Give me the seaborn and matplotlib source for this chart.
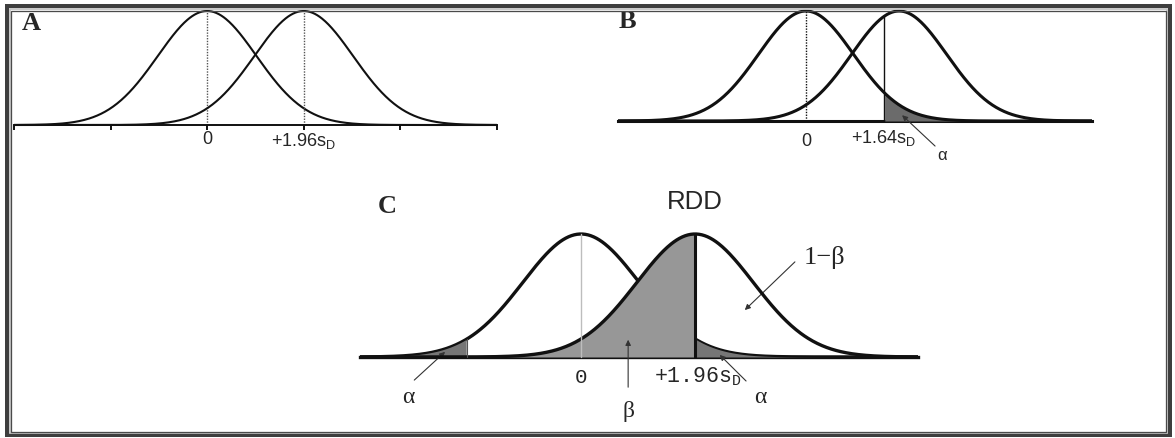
import numpy as np
import pandas as pd
import matplotlib
matplotlib.use("Agg")
import matplotlib.pyplot as plt
import seaborn as sns
from matplotlib.patches import Rectangle

# ---------------- data ----------------
panel_labels = ["A", "B", "C"]
null_mean = 0.0          # H0 distribution centre (in s_D units)
alt_mean = 1.96          # alternative distribution centre
crit_B = 1.64            # one-sided critical value, panel B
crit_C = 1.96            # two-sided critical value, panel C
ticks_A = [-3.92, -1.96, 0.0, 1.96, 3.92, 5.88]
label_zero = "0"
label_A = "+1.96s$\\mathregular{_D}$"
label_B = "+1.64s$\\mathregular{_D}$"
label_C = "+1.96s$\\mathregular{_D}$"
title_C = "RDD"
greek_alpha = "\u03b1"
greek_beta = "\u03b2"
power_label = "1\u2212\u03b2"

sns.set_theme(style="white")
plt.rcParams["font.family"] = ["Liberation Sans", "DejaVu Sans"]

W, H = 1175, 438
fig = plt.figure(figsize=(W / 100, H / 100), dpi=100)
fig.patch.set_facecolor("white")


def add_panel(x0, x1, top, bottom, base, peak, xc, sig):
    ax = fig.add_axes([x0 / W, (H - bottom) / H, (x1 - x0) / W, (bottom - top) / H])
    unit = base - peak
    ax.set_xlim((x0 - xc) / sig, (x1 - xc) / sig)
    ax.set_ylim((base - bottom) / unit, (base - top) / unit)
    ax.set_facecolor("none")
    for s in ["top", "left", "right"]:
        ax.spines[s].set_visible(False)
    ax.spines["bottom"].set_position(("data", 0))
    ax.set_yticks([])
    return ax


def curve(ax, mean, n=600):
    xs = np.linspace(*ax.get_xlim(), n)
    return xs, np.exp(-0.5 * (xs - mean) ** 2)


def gauss(x, mean):
    return float(np.exp(-0.5 * (x - mean) ** 2))


serif = "Liberation Serif"
mono = "Liberation Mono"

# ---------------- Panel A ----------------
axA = add_panel(14, 497, 5, 170, 125, 11, 207, 49.3)
axA.spines["bottom"].set_linewidth(1.4)
axA.spines["bottom"].set_color("#111111")
axA.set_xticks(ticks_A)
axA.set_xticklabels([])
axA.tick_params(axis="x", direction="out", length=3.5, width=1.4, color="#111111", bottom=True)
for m in (null_mean, alt_mean):
    xs, ys = curve(axA, m)
    sns.lineplot(x=xs, y=ys, ax=axA, color="#111111", lw=1.5, sort=False)
    axA.plot([m, m], [0, 1], color="#555555", lw=1.0, ls=(0, (1, 1)))
axA.text(null_mean, -0.13, label_zero, ha="center", va="center", fontsize=13)
axA.text(alt_mean, -0.14, label_A, ha="center", va="center", fontsize=13)
axA.text(-3.57, 0.833, panel_labels[0], ha="center", va="baseline", fontsize=19,
         fontweight="bold", family=serif)

# ---------------- Panel B ----------------
axB = add_panel(618, 1092, 5, 170, 121, 11, 806, 47.5)
axB.spines["bottom"].set_linewidth(2.2)
axB.spines["bottom"].set_color("#111111")
axB.set_xticks([])
xs0, ys0 = curve(axB, null_mean)
xs1, ys1 = curve(axB, alt_mean)
mask = xs0 >= crit_B
axB.fill_between(xs0[mask], 0, ys0[mask], color="#6b6b6b", lw=0, zorder=3)
sns.lineplot(x=xs0, y=ys0, ax=axB, color="#111111", lw=2.2, sort=False, zorder=4)
sns.lineplot(x=xs1, y=ys1, ax=axB, color="#111111", lw=2.2, sort=False, zorder=4)
axB.plot([null_mean, null_mean], [0, 1], color="#111111", lw=1.0, ls=(0, (1, 1)), zorder=5)
axB.plot([crit_B, crit_B], [0, gauss(crit_B, alt_mean)], color="#111111", lw=1.0, zorder=5)
axB.text(null_mean, -0.19, label_zero, ha="center", va="center", fontsize=13)
axB.text(crit_B, -0.15, label_B, ha="center", va="center", fontsize=13)
axB.text(2.86, -0.31, greek_alpha, ha="center", va="center", fontsize=12)
axB.annotate("", xy=(1.98, 0.07), xytext=(2.76, -0.245),
             arrowprops=dict(arrowstyle="-|>", lw=0.8, color="#333333", mutation_scale=8))
axB.text(-3.75, 0.845, panel_labels[1], ha="center", va="baseline", fontsize=19,
         fontweight="bold", family=serif)

# ---------------- Panel C ----------------
axC = add_panel(360, 918, 185, 425, 357, 234, 581, 58.2)
axC.spines["bottom"].set_linewidth(2.4)
axC.spines["bottom"].set_color("#111111")
axC.set_xticks([])
xs0, ys0 = curve(axC, null_mean)
xs1, ys1 = curve(axC, alt_mean)
sns.lineplot(x=xs0, y=ys0, ax=axC, color="#111111", lw=2.4, sort=False, zorder=2)
m_beta = xs1 <= crit_C
axC.fill_between(xs1[m_beta], 0, ys1[m_beta], color="#979797", lw=0, zorder=3)
m_lt = xs0 <= -crit_C
axC.fill_between(xs0[m_lt], 0, ys0[m_lt], color="#767676", lw=0, zorder=3)
m_rt = xs0 >= crit_C
axC.fill_between(xs0[m_rt], 0, ys0[m_rt], color="#767676", lw=0, zorder=3)
sns.lineplot(x=xs1, y=ys1, ax=axC, color="#111111", lw=2.4, sort=False, zorder=4)
axC.plot([null_mean, null_mean], [0, 1], color="#bdbdbd", lw=1.0, zorder=5)
axC.plot([crit_C, crit_C], [0, 1], color="#111111", lw=2.2, zorder=5)
axC.plot([-crit_C, -crit_C], [0, gauss(-crit_C, null_mean)], color="#555555", lw=0.8, zorder=5)

axC.text(null_mean, -0.163, label_zero, ha="center", va="center", fontsize=15, family=mono)
axC.text(2.0, -0.163, label_C, ha="center", va="center", fontsize=15.5, family=mono)
axC.text(-3.33, 1.171, panel_labels[2], ha="center", va="baseline", fontsize=19,
         fontweight="bold", family=serif)
axC.text(1.96, 1.26, title_C, ha="center", va="center", fontsize=18.5)
axC.text(-2.97, -0.333, greek_alpha, ha="center", va="center", fontsize=17, family=serif)
axC.text(0.81, -0.447, greek_beta, ha="center", va="center", fontsize=17, family=serif)
axC.text(3.08, -0.333, greek_alpha, ha="center", va="center", fontsize=17, family=serif)
axC.text(4.19, 0.805, power_label, ha="center", va="center", fontsize=19, family=serif)

arrow_kw = dict(arrowstyle="-|>", lw=0.8, color="#333333", mutation_scale=8)
axC.annotate("", xy=(-2.30, 0.057), xytext=(-2.90, -0.203), arrowprops=arrow_kw)
axC.annotate("", xy=(0.81, 0.163), xytext=(0.81, -0.268), arrowprops=arrow_kw)
axC.annotate("", xy=(2.35, 0.033), xytext=(2.87, -0.211), arrowprops=arrow_kw)
axC.annotate("", xy=(2.78, 0.366), xytext=(3.71, 0.789), arrowprops=arrow_kw)

# ---------------- frame ----------------
def frame(left, top, right, bottom, lw_px, color):
    fig.patches.append(Rectangle((left / W, (H - bottom) / H), (right - left) / W,
                                 (bottom - top) / H, transform=fig.transFigure,
                                 fill=False, edgecolor=color, lw=lw_px * 0.72, zorder=10))

frame(7, 6, 1170, 435, 4, "#3e3e3e")
frame(9.8, 8.8, 1167.2, 432.8, 1.8, "#c4c4c4")
frame(11.5, 10.5, 1165.5, 431.5, 1.3, "#4a4a4a")

fig.savefig("out.png", dpi=100)
